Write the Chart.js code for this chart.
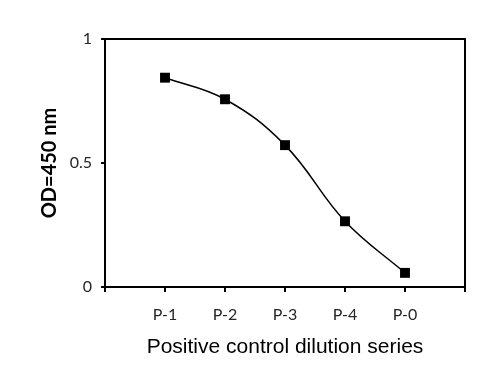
<!DOCTYPE html>
<html>
<head>
<meta charset="utf-8">
<script src="https://cdn.jsdelivr.net/npm/chart.js@4"></script>
<style>
  html, body { margin: 0; padding: 0; background: #fff; }
  #wrap { width: 489px; height: 381px; }
</style>
</head>
<body>
<div id="wrap"><canvas id="odChart" width="489" height="381"></canvas></div>
<script>
// ========== DATA ==========
const categories = ['P-1', 'P-2', 'P-3', 'P-4', 'P-0'];
const odValues = [0.844, 0.757, 0.572, 0.265, 0.057];
const yTicks = [0, 0.5, 1];

const xTitle = 'Positive control dilution series';
const yTitle = 'OD=450 nm';

// points sit on ticks 1..5, with an empty slot at each end
const points = odValues.map((v, i) => ({ x: i + 1, y: v }));

// draw the top and right edges of the plot box
const boxPlugin = {
  id: 'plotBox',
  afterDraw(chart) {
    const { ctx, chartArea: a } = chart;
    ctx.save();
    ctx.strokeStyle = '#000';
    ctx.lineWidth = 2;
    ctx.beginPath();
    ctx.moveTo(a.left, a.top);
    ctx.lineTo(a.right, a.top);
    ctx.lineTo(a.right, a.bottom);
    ctx.stroke();
    ctx.restore();
  }
};

new Chart(document.getElementById('odChart'), {
  type: 'line',
  data: {
    datasets: [{
      data: points,
      borderColor: '#000',
      borderWidth: 1.5,
      tension: 0.4,
      pointStyle: 'rect',
      pointRadius: 7,
      pointBorderWidth: 0,
      pointBackgroundColor: '#000',
      clip: false
    }]
  },
  options: {
    responsive: false,
    animation: false,
    layout: { padding: { top: 39, right: 24, bottom: 0, left: 0 } },
    plugins: {
      legend: { display: false },
      tooltip: { enabled: false }
    },
    scales: {
      x: {
        type: 'linear',
        min: 0,
        max: categories.length + 1,
        afterFit: s => { s.height = 94; },
        afterBuildTicks: s => {
          s.ticks = Array.from({ length: categories.length + 2 }, (_, i) => ({ value: i }));
        },
        ticks: {
          autoSkip: false,
          maxRotation: 0,
          padding: 13,
          color: '#262626',
          font: { family: 'Lato', size: 16 },
          callback: v => categories[v - 1] || ''
        },
        grid: {
          drawOnChartArea: false,
          tickLength: 5,
          color: '#000',
          lineWidth: 2
        },
        border: { display: true, color: '#000', width: 2 },
        title: {
          display: true,
          text: xTitle,
          color: '#000',
          font: { family: 'Liberation Sans', size: 21 },
          padding: { top: 0, bottom: 21 }
        }
      },
      y: {
        min: 0,
        max: 1,
        afterFit: s => { s.width = 105; },
        afterBuildTicks: s => { s.ticks = yTicks.map(v => ({ value: v })); },
        ticks: {
          padding: 9,
          color: '#262626',
          font: { family: 'Lato', size: 16 },
          callback: v => String(v)
        },
        grid: {
          drawOnChartArea: false,
          tickLength: 4,
          color: '#000',
          lineWidth: 2
        },
        border: { display: true, color: '#000', width: 2 },
        title: {
          display: true,
          text: yTitle,
          color: '#000',
          font: { family: 'Lato', size: 20, weight: 'bold' },
          padding: { top: 38, bottom: 0 }
        }
      }
    }
  },
  plugins: [boxPlugin]
});
</script>
</body>
</html>
